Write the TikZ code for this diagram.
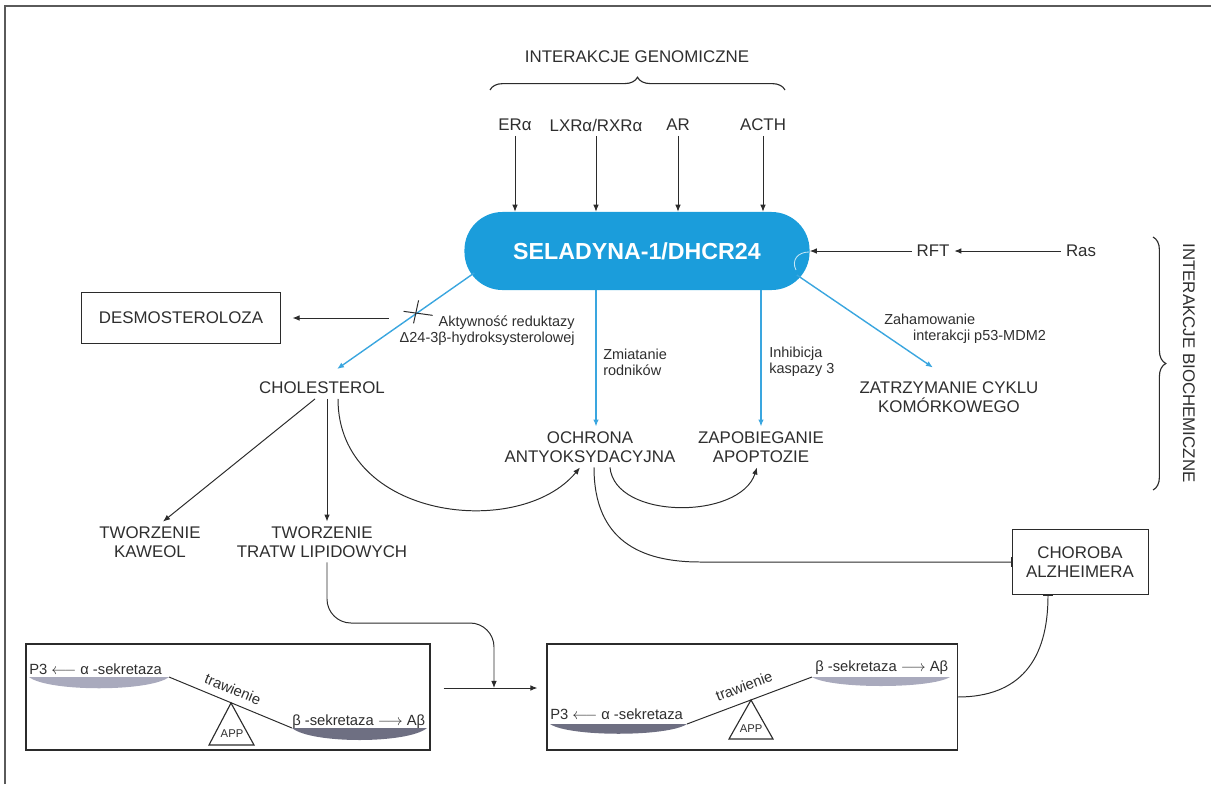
\documentclass[tikz,border=0pt]{standalone}
\usepackage{fontspec}
\setmainfont{Liberation Sans}
\usepackage{tikz}
\usetikzlibrary{arrows.meta,calc,decorations.pathreplacing}
\definecolor{SelBlue}{HTML}{1B9DDB}
\definecolor{LineBlue}{HTML}{3AA6DF}
\definecolor{Ink}{HTML}{2B2B2B}
\definecolor{TextGray}{HTML}{2E2E2E}
\definecolor{PlateLight}{HTML}{A9AABD}
\definecolor{PlateDark}{HTML}{6E6F82}
\definecolor{FrameGray}{HTML}{5A5A5A}

\begin{document}
\begin{tikzpicture}[x=0.025cm,y=-0.025cm,
  lbl/.style={align=center,font=\fontsize{12}{13.5}\selectfont,text=TextGray},
  note/.style={font=\fontsize{10.3}{11.5}\selectfont,text=TextGray,inner sep=0pt},
  paneltxt/.style={font=\fontsize{10.5}{12}\selectfont,text=TextGray,inner sep=0pt},
  box/.style={draw=Ink,line width=0.7pt,align=center,font=\fontsize{12}{13.5}\selectfont,text=TextGray},
  hub/.style={fill=SelBlue,rounded corners=0.95cm,minimum width=8.625cm,minimum height=1.95cm,text=white,font=\fontsize{16.5}{18}\selectfont\bfseries},
  panel/.style={draw=Ink,line width=0.8pt,minimum height=2.65cm},
  arr/.style={-{Latex[length=5pt,width=4pt]},Ink,line width=0.7pt},
  barr/.style={-{Latex[length=5pt,width=4pt]},LineBlue,line width=1pt},
  inh/.style={-{Bar[width=7pt]},Ink,line width=0.7pt},
  brc/.style={decorate,decoration={brace,amplitude=0.32cm},Ink,line width=0.8pt}
]
\useasboundingbox (0,0) rectangle (1211,784);
\draw[FrameGray,line width=1.2pt] (5,784) -- (5,6) -- (1211,6);

% genomic inputs
\node[lbl] (genom) at (637,57) {INTERAKCJE GENOMICZNE};
\draw[brc] (490,90) -- (785,90);
\node[lbl] (era) at (515,125) {ERα};
\node[lbl] (lxr) at (596,125) {LXRα/RXRα};
\node[lbl] (ar) at (678,125) {AR};
\node[lbl] (acth) at (763,125) {ACTH};

\node[hub] (hub) at (637,251) {SELADYNA-1/DHCR24};
\draw[white!75!SelBlue,line width=0.6pt] (796,270) .. controls (791,260) and (798,252) .. (809,252);

\draw[arr] (era.south) -- (era.south |- hub.north);
\draw[arr] (lxr.south) -- (lxr.south |- hub.north);
\draw[arr] (ar.south) -- (ar.south |- hub.north);
\draw[arr] (acth.south) -- (acth.south |- hub.north);

% biochemical side
\node[lbl] (rft) at (933,251) {RFT};
\node[lbl] (ras) at (1081,251) {Ras};
\draw[arr] (ras) -- (rft);
\draw[arr] (rft) -- (hub.east);
\draw[brc] (1153,237) -- (1153,490);
\node[lbl,rotate=-90] (biochem) at (1189,363) {INTERAKCJE BIOCHEMICZNE};

\node[box,minimum width=4.95cm,minimum height=1.275cm] (desm) at (181,318) {DESMOSTEROLOZA};
\node[lbl] (chol) at (322,388) {CHOLESTEROL};
\node[lbl] (ochr) at (590,447) {OCHRONA\\ANTYOKSYDACYJNA};
\node[lbl] (apop) at (761,447) {ZAPOBIEGANIE\\APOPTOZIE};
\node[lbl] (zat) at (949,397) {ZATRZYMANIE CYKLU\\KOMÓRKOWEGO};
\node[lbl] (kaw) at (150,542) {TWORZENIE\\KAWEOL};
\node[lbl] (tratw) at (322,542) {TWORZENIE\\TRATW LIPIDOWYCH};
\node[box,minimum width=3.4cm,minimum height=1.625cm] (alz) at (1080,562) {CHOROBA\\ALZHEIMERA};

% blue outputs of seladyna
\draw[barr] ($(hub.west)+(10,22)$) -- coordinate[pos=0.42] (cut) ($(chol.north)+(15,-8)$);
\draw[Ink,line width=0.7pt] ($(cut)+(-13,-2)$) -- ($(cut)+(16,2)$);
\draw[Ink,line width=0.7pt] ($(cut)+(2,-13)$) -- ($(cut)+(-3,10)$);
\draw[arr] ($(desm.east -| cut)+(-28,0)$) -- ($(desm.east)+(12,0)$);
\node[note,anchor=east,align=right] (akt) at (575,331) {Aktywność reduktazy\\Δ24-3β-hydroksysterolowej};

\draw[barr] ($(hub.south -| ochr.north)+(6,0)$) -- ($(ochr.north)+(6,0)$);
\node[note,anchor=west,align=left] (zmiat) at (603,362) {Zmiatanie\\rodników};
\draw[barr] (hub.south -| apop.north) -- (apop.north);
\node[note,anchor=west,align=left] (inhib) at (769,362) {Inhibicja\\kaspazy 3};
\draw[barr] ($(hub.east)+(-13,24)$) -- ($(zat.north)+(-16,-9)$);
\node[note,anchor=west,align=left] (zaham) at (884,329) {Zahamowanie\\\hspace*{0.72cm}interakcji p53-MDM2};

% cholesterol branches
\draw[arr] ($(chol.south)+(-7,0)$) -- ($(kaw.north)+(13,0)$);
\draw[arr] ($(chol.south)+(5,0)$) -- ($(tratw.north)+(5,0)$);
\draw[arr] ($(chol.south)+(16,0)$) .. controls (338,520) and (520,540) .. ($(ochr.south)+(-10,0)$);
\draw[arr] ($(ochr.south)+(20,0)$) .. controls (615,520) and (740,520) .. ($(apop.south)+(-4,0)$);
\draw[inh] ($(ochr.south)+(4,0)$) .. controls (594,540) and (640,562) .. (700,562) -- (alz.west);

% APP processing panels
\node[panel,minimum width=10.1cm] (pan1) at (228,697) {};
\node[panel,minimum width=10.25cm] (pan2) at (752,697) {};
\coordinate (jn) at (494,688);
\coordinate (bend) at (494,623);
\draw[arr] ($(pan1.east |- jn)+(13,0)$) -- ($(pan2.west |- jn)+(-9,0)$);
\draw[arr,rounded corners=0.6cm] ($(tratw.south)+(5,0)$) |- (bend) -- (jn);
\draw[inh] (pan2.east) .. controls (1020,697) and (1048,660) .. ($(alz.south)+(-32,0)$);

% left panel: alpha side up
\fill[PlateLight] (29,677) -- (169,677) .. controls (150,692) and (48,692) .. cycle;
\fill[PlateDark] (292,728) -- (427,728) .. controls (408,744) and (311,744) .. cycle;
\draw[Ink,line width=0.7pt] (169,677) -- (292,728);
\draw[Ink,line width=0.8pt] (231,703) -- (209,745) -- (254,745) -- cycle;
\node[paneltxt,font=\fontsize{8}{9}\selectfont] (app1) at (232,734) {APP};
\node[paneltxt,rotate=-22.5] (traw1) at (233,689) {trawienie};
\node[paneltxt,anchor=base west] (asek1) at (29,674) {P3 $\longleftarrow$ α -sekretaza};
\node[paneltxt,anchor=base west] (bsek1) at (292,725) {β -sekretaza $\longrightarrow$ Aβ};

% right panel: beta side up
\fill[PlateDark] (550,724) -- (687,724) .. controls (668,737) and (569,737) .. cycle;
\fill[PlateLight] (812,677) -- (950,677) .. controls (931,689) and (831,689) .. cycle;
\draw[Ink,line width=0.7pt] (687,724) -- (812,677);
\draw[Ink,line width=0.8pt] (751,700) -- (729,739) -- (773,739) -- cycle;
\node[paneltxt,font=\fontsize{8}{9}\selectfont] (app2) at (751,729) {APP};
\node[paneltxt,rotate=20.6] (traw2) at (744,686) {trawienie};
\node[paneltxt,anchor=base west] (asek2) at (550,719) {P3 $\longleftarrow$ α -sekretaza};
\node[paneltxt,anchor=base west] (bsek2) at (815,671) {β -sekretaza $\longrightarrow$ Aβ};
\end{tikzpicture}
\end{document}
